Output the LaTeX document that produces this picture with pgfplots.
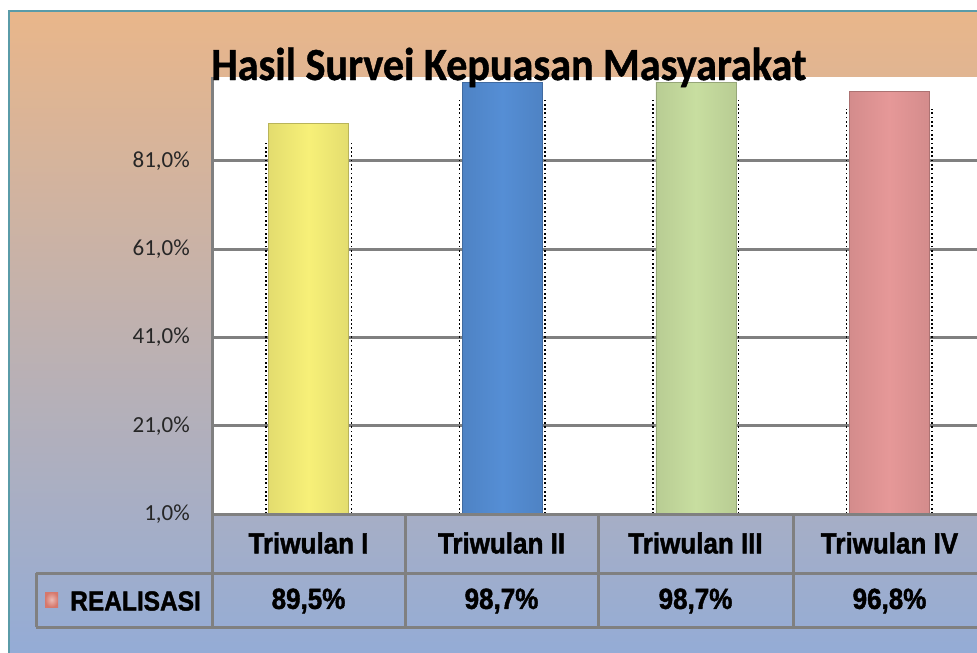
\documentclass[border=0pt]{standalone}
\usepackage{fontspec}
\setmainfont{Carlito}
\newfontfamily\tabfont{Liberation Sans}[FakeBold=1.6]
\newfontfamily\titlefont{Carlito}[FakeBold=1.0]
\usepackage{graphicx}
\usepackage{pgfplots}
\pgfplotsset{compat=1.18}
\definecolor{bgtop}{RGB}{233,182,138}
\definecolor{bgbot}{RGB}{148,172,214}
\definecolor{framec}{RGB}{90,155,168}
\definecolor{gridc}{RGB}{128,128,128}
\definecolor{cI}{RGB}{247,240,120}
\definecolor{cII}{RGB}{85,142,213}
\definecolor{cIII}{RGB}{200,222,160}
\definecolor{cIV}{RGB}{230,152,152}
\definecolor{legc}{RGB}{214,120,108}
\begin{document}
\begin{tikzpicture}[x=1pt,y=1pt]
\path[use as bounding box, clip] (0,0) rectangle (977,-653);
\fill[white] (0,0) rectangle (977,-653);
\shade[top color=bgtop, bottom color=bgbot] (9,-11) rectangle (977,-653);
\draw[framec, line width=2.5pt] (9,-653) -- (9,-11) -- (977,-11);
\begin{axis}[
  at={(212pt,-514pt)}, anchor=south west,
  scale only axis, width=765pt, height=437pt,
  xmin=-0.5, xmax=3.453, ymin=1, ymax=100,
  axis background/.style={fill=white},
  axis lines*=left,
  axis line style={gridc, line width=3pt},
  xtick=\empty,
  ytick={1,21,41,61,81},
  yticklabels={{1,0\%},{21,0\%},{41,0\%},{61,0\%},{81,0\%}},
  ymajorgrids, grid style={gridc, line width=3pt},
  major tick length=0pt,
  yticklabel style={font=\fontsize{23}{23}\selectfont, text=black!85, inner sep=0pt, xshift=-22pt},
]
\addplot[ybar, bar width=80pt, bar shift=0pt, draw=cI!75!black, line width=0.6pt, left color=cI!92!black, right color=cI!92!black, middle color=cI] coordinates {(0,89.5)};
\addplot[ybar, bar width=80pt, bar shift=0pt, draw=cII!75!black, line width=0.6pt, left color=cII!92!black, right color=cII!92!black, middle color=cII] coordinates {(1,98.7)};
\addplot[ybar, bar width=80pt, bar shift=0pt, draw=cIII!75!black, line width=0.6pt, left color=cIII!92!black, right color=cIII!92!black, middle color=cIII] coordinates {(2,98.7)};
\addplot[ybar, bar width=80pt, bar shift=0pt, draw=cIV!75!black, line width=0.6pt, left color=cIV!92!black, right color=cIV!92!black, middle color=cIV] coordinates {(3,96.8)};
\addplot[ycomb, black, line width=1.7pt, dash pattern=on 1.7pt off 2.6pt, mark=none] coordinates {(-0.221,85.5) (0.221,85.5) (0.779,94.7) (1.221,94.7) (1.779,94.7) (2.221,94.7) (2.779,92.8) (3.221,92.8)};
\end{axis}
% data table
\draw[gridc, line width=3pt] (212,-514) -- (977,-514);
\draw[gridc, line width=3pt] (36,-573) -- (977,-573);
\draw[gridc, line width=3pt] (36,-627) -- (977,-627);
\foreach \xx in {212,405,598,793} \draw[gridc, line width=3pt] (\xx,-514) -- (\xx,-627);
\draw[gridc, line width=3pt] (36,-573) -- (36,-627);
\begin{scope}[every node/.style={inner sep=0pt}]
\node at (308.5,-543) {\scalebox{1}[1.12]{\tabfont\bfseries\fontsize{26}{26}\selectfont Triwulan I}};
\node at (501.5,-543) {\scalebox{1}[1.12]{\tabfont\bfseries\fontsize{26}{26}\selectfont Triwulan II}};
\node at (695.5,-543) {\scalebox{1}[1.12]{\tabfont\bfseries\fontsize{26}{26}\selectfont Triwulan III}};
\node at (889.5,-543) {\scalebox{1}[1.12]{\tabfont\bfseries\fontsize{26}{26}\selectfont Triwulan IV}};
\node at (308.5,-601) {\scalebox{1}[1.12]{\tabfont\bfseries\fontsize{26}{26}\selectfont 89,5\%}};
\node at (501.5,-601) {\scalebox{1}[1.12]{\tabfont\bfseries\fontsize{26}{26}\selectfont 98,7\%}};
\node at (695.5,-601) {\scalebox{1}[1.12]{\tabfont\bfseries\fontsize{26}{26}\selectfont 98,7\%}};
\node at (889.5,-601) {\scalebox{1}[1.12]{\tabfont\bfseries\fontsize{26}{26}\selectfont 96,8\%}};
\node[anchor=west] at (70,-601) {\scalebox{1}[1.12]{\tabfont\bfseries\fontsize{24.5}{24.5}\selectfont REALISASI}};
\end{scope}
\shade[inner color=legc!50!white, outer color=legc] (45,-592) rectangle (58,-607);
% title
\node[anchor=base west, inner sep=0pt] at (211,-80) {\scalebox{0.915}[1]{\titlefont\fontsize{46}{46}\selectfont\bfseries Hasil Survei Kepuasan Masyarakat}};
\end{tikzpicture}
\end{document}
